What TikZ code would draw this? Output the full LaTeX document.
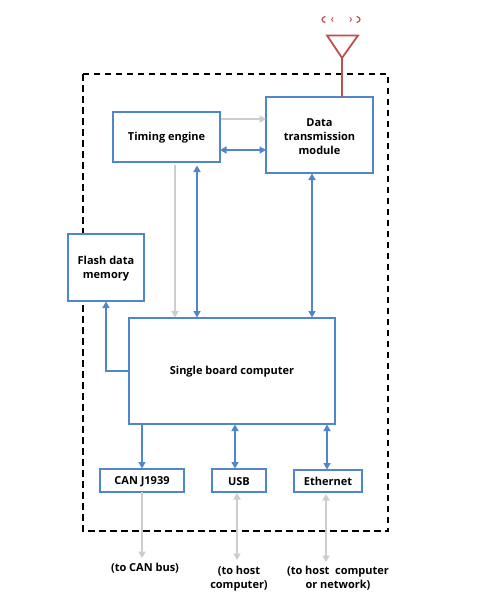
\documentclass[tikz,border=0pt]{standalone}
\usepackage{fontspec}
\setmainfont{Open Sans}
\usetikzlibrary{arrows.meta,calc}
\definecolor{bl}{HTML}{4F87CF}
\definecolor{gy}{HTML}{CDCDCD}
\definecolor{rd}{HTML}{BE4F4B}
\newcommand\lowertext{\rule{0pt}{10.5pt}}
\tikzset{
  box/.style={draw=bl,line width=1.8pt,fill=white,outer sep=0pt,inner sep=0pt,align=center,font=\fontsize{11}{14}\selectfont\bfseries,text=black},
  lbl/.style={inner sep=0pt,align=center,font=\fontsize{11}{14}\selectfont\bfseries,text=black},
  bluearrow/.style={draw=bl,line width=1.6pt,-{Triangle[length=6.5pt,width=7pt]}},
  bluedouble/.style={draw=bl,line width=1.6pt,{Triangle[length=6.5pt,width=7pt]}-{Triangle[length=6.5pt,width=7pt]}},
  grayarrow/.style={draw=gy,line width=1.7pt,-{Triangle[length=6.5pt,width=7pt]}},
  graydouble/.style={draw=gy,line width=1.7pt,{Triangle[length=6.5pt,width=7pt]}-{Triangle[length=6.5pt,width=7pt]}},
  redline/.style={draw=rd,line width=1.8pt},
  wave/.style={draw=rd,line width=1.2pt,line cap=round}
}
\begin{document}
\begin{tikzpicture}[x=1pt,y=-1pt]
\useasboundingbox[fill=white] (0,0) rectangle (500,608);
\draw[black,line width=1.8pt,dash pattern=on 6.5pt off 4.5pt] (83,74) rectangle (388,531);
% boxes
\node[box,minimum width=107pt,minimum height=50pt] (tim) at (166.5,137) {\lowertext Timing engine};
\node[box,minimum width=107pt,minimum height=76pt] (dat) at (319.5,135) {\lowertext Data\\transmission\\module};
\node[box,minimum width=76pt,minimum height=67pt] (fla) at (106,267.5) {\lowertext Flash data\\memory};
\node[box,minimum width=206pt,minimum height=106pt] (sbc) at (232,371) {\lowertext Single board computer};
\node[box,minimum width=84pt,minimum height=23pt] (can) at (142,480.5) {\lowertext CAN J1939};
\node[box,minimum width=54pt,minimum height=23pt] (usb) at (239,480.5) {\lowertext USB};
\node[box,minimum width=68pt,minimum height=22pt] (eth) at (328,481) {Ethernet};
% labels
\node[lbl] (l1) at (145,568) {(to CAN bus)};
\node[lbl] (l2) at (239,579) {(to host\\computer)};
\node[lbl] (l3) at (338,578) {(to host~ computer\\or network)};
% antenna
\coordinate (ant) at (342,58);
\draw[redline,line join=miter] (327,35.5) -- (358,35.5) -- (ant) -- cycle;
\draw[redline] (ant) -- (dat.north -| ant);
\draw[wave] (325,16.5) .. controls (321,18) and (321,21) .. (325,22.5);
\draw[wave,line width=.8pt] (333,17.5) .. controls (331,18.5) and (331,20.5) .. (333,21.5);
\draw[wave,line width=.8pt] (350,17.5) .. controls (352,18.5) and (352,20.5) .. (350,21.5);
\draw[wave] (357,16.5) .. controls (361,18) and (361,21) .. (357,22.5);
% coordinates for x / y positions of connectors
\coordinate (gv) at (175,0);
\coordinate (bv) at (197,0);
\coordinate (dv) at (312,0);
\coordinate (cv) at (142,0);
\coordinate (uv) at (235,0);
\coordinate (ev) at (327,0);
\coordinate (ug) at (237,0);
\coordinate (eg) at (326,0);
\coordinate (fv) at (106,0);
\coordinate (hg) at (0,119);
\coordinate (hb) at (0,150);
\coordinate (fh) at (0,371);
\coordinate (e1) at (142,558);
\coordinate (e2) at (237,560);
\coordinate (e3) at (326,562);
% connectors
\draw[grayarrow,shorten <=1pt] (tim.east |- hg) -- (dat.west |- hg);
\draw[bluedouble] (tim.east |- hb) -- (dat.west |- hb);
\draw[grayarrow,shorten <=3pt,shorten >=0.5pt] (tim.south -| gv) -- (sbc.north -| gv);
\draw[bluedouble,shorten <=3.5pt,shorten >=0.5pt] (tim.south -| bv) -- (sbc.north -| bv);
\draw[bluedouble,shorten <=0.5pt,shorten >=0.5pt] (dat.south -| dv) -- (sbc.north -| dv);
\draw[bluearrow,shorten >=0.5pt] (sbc.west |- fh) -- (fv |- fh) -- (fla.south -| fv);
\draw[bluearrow,shorten >=0.5pt] (sbc.south -| cv) -- (can.north -| cv);
\draw[bluedouble,shorten <=0.5pt,shorten >=0.5pt] (sbc.south -| uv) -- (usb.north -| uv);
\draw[bluedouble,shorten <=0.5pt,shorten >=0.5pt] (sbc.south -| ev) -- (eth.north -| ev);
\draw[grayarrow] (can.south -| cv) -- (e1);
\draw[graydouble,shorten <=1pt] (usb.south -| ug) -- (e2);
\draw[graydouble,shorten <=2pt] (eth.south -| eg) -- (e3);
\end{tikzpicture}
\end{document}
